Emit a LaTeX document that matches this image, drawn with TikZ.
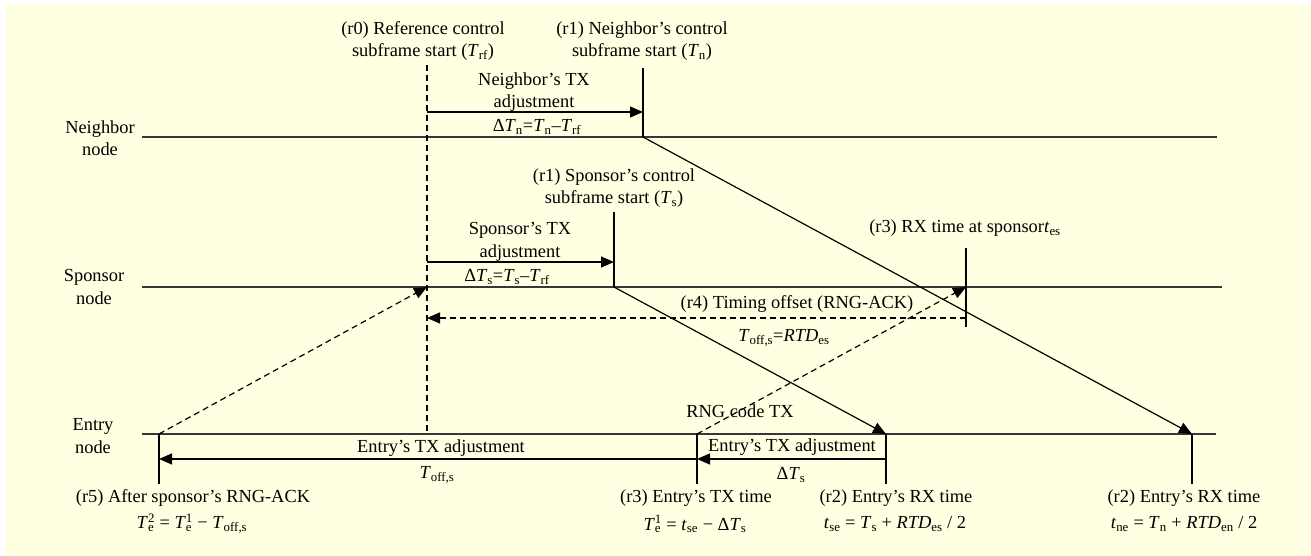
\documentclass[tikz,border=0pt]{standalone}
\usepackage{fontspec}
\setmainfont{Liberation Serif}
\usetikzlibrary{arrows.meta}
\definecolor{bgc}{RGB}{255,255,225}
\definecolor{linec}{RGB}{55,55,55}
\newcommand\subsup[2]{\setbox0\hbox{\textsuperscript{#2}}\setbox2\hbox{\textsubscript{#1}}\ifdim\wd0>\wd2\relax\rlap{\box2}\box0\relax\else\rlap{\box0}\box2\relax\fi}
\newcommand\Ti{\textit{T}}
\newcommand\ti{\textit{t}}
\begin{document}
\begin{tikzpicture}[x=1pt,y=-1pt,
  every node/.style={font=\fontsize{18.4}{22.5}\selectfont, inner sep=0pt, align=center},
  tline/.style={draw=linec, line width=1.6pt},
  vline/.style={draw=black, line width=1.2pt},
  arr/.style={draw=black, line width=1.2pt, -{Triangle[length=13pt,width=11pt]}},
  darr/.style={arr, dash pattern=on 6pt off 4pt},
  dline/.style={draw=black, line width=1.2pt, dash pattern=on 6pt off 4pt}]
\useasboundingbox (0,0) rectangle (1311,556);
\fill[bgc] (6,5) rectangle (1311,556);

% timelines
\coordinate (nL) at (142,137); \coordinate (nR) at (1217,137);
\coordinate (sL) at (142,287); \coordinate (sR) at (1222,287);
\coordinate (eL) at (142,434); \coordinate (eR) at (1216,434);
% key points
\coordinate (r0top) at (427,65); \coordinate (r0s) at (427,287); \coordinate (r0bot) at (427,434);
\coordinate (n1top) at (643,68); \coordinate (n1) at (643,137);
\coordinate (na0) at (427,112); \coordinate (na1) at (643,112);
\coordinate (enrx) at (1192,434); \coordinate (enrxb) at (1192,484);
\coordinate (s1top) at (614,212); \coordinate (s1) at (614,287);
\coordinate (sa0) at (427,262); \coordinate (sa1) at (614,262);
\coordinate (esrx) at (886,434); \coordinate (esrxb) at (886,484);
\coordinate (srxtop) at (966,248); \coordinate (srx) at (966,287); \coordinate (srxb) at (966,327);
\coordinate (r4a) at (966,318); \coordinate (r4b) at (427,318);
\coordinate (etx) at (697,434); \coordinate (etxb) at (697,484);
\coordinate (ea0) at (886,459); \coordinate (ea1) at (697,459); \coordinate (eb1) at (159,459);
\coordinate (e5) at (159,434); \coordinate (e5b) at (159,484);

\draw[tline] (nL) -- (nR);
\draw[tline] (sL) -- (sR);
\draw[tline] (eL) -- (eR);

\draw[dline] (r0top) -- (r0bot);
\draw[vline] (n1top) -- (n1);
\draw[arr] (na0) -- (na1);
\draw[arr] (n1) -- (enrx);
\draw[vline] (enrx) -- (enrxb);
\draw[vline] (s1top) -- (s1);
\draw[arr] (sa0) -- (sa1);
\draw[arr] (s1) -- (esrx);
\draw[vline] (esrx) -- (esrxb);
\draw[vline] (srxtop) -- (srxb);
\draw[darr] (r4a) -- (r4b);
\draw[darr] (etx) -- (srx);
\draw[vline] (etx) -- (etxb);
\draw[arr] (ea0) -- (ea1);
\draw[arr] (ea1) -- (eb1);
\draw[vline] (e5) -- (e5b);
\draw[darr] (e5) -- (r0s);

% labels
\node (lnb) at (100,138) {Neighbor\\node};
\node (lsp) at (94,287) {Sponsor\\node};
\node (len) at (93,436) {Entry\\node};

\node (lr0) at (423,41) {(r0) Reference control\\subframe start (\Ti\textsubscript{rf})};
\node (lr1n) at (642,41) {(r1) Neighbor’s control\\subframe start (\Ti\textsubscript{n})};
\node (lntx) at (534,92) {Neighbor’s TX\\adjustment};
\node (lndt) at (537,127) {Δ\Ti\textsubscript{n}=\Ti\textsubscript{n}–\Ti\textsubscript{rf}};

\node (lr1s) at (614,188) {(r1) Sponsor’s control\\subframe start (\Ti\textsubscript{s})};
\node (lstx) at (520,242) {Sponsor’s TX\\adjustment};
\node (lsdt) at (507,277) {Δ\Ti\textsubscript{s}=\Ti\textsubscript{s}–\Ti\textsubscript{rf}};
\node (lr3s) at (965,228) {(r3) RX time at sponsor\ti\textsubscript{es}};
\node (lr4) at (797,304) {(r4) Timing offset (RNG-ACK)};
\node (lr4f) at (784,338) {\Ti\textsubscript{off,s}=\textit{RTD}\textsubscript{es}};
\node (lrng) at (740,411) {RNG code TX};

\node (ladj1) at (792,447) {Entry’s TX adjustment};
\node (ldts) at (791,475) {Δ\Ti\textsubscript{s}};
\node (ladj2) at (441,448) {Entry’s TX adjustment};
\node (ltoff) at (437,475) {\Ti\textsubscript{off,s}};

\node (lr5) at (193,498) {(r5) After sponsor’s RNG-ACK};
\node (lr5f) at (192,524) {\Ti\subsup{e}{2} = \Ti\subsup{e}{1} − \Ti\textsubscript{off,s}};
\node (lr3e) at (696,498) {(r3) Entry’s TX time};
\node (lr3f) at (695,524) {\Ti\subsup{e}{1} = \ti\textsubscript{se} − Δ\Ti\textsubscript{s}};
\node (lr2s) at (896,498) {(r2) Entry’s RX time};
\node (lr2sf) at (895,524) {\ti\textsubscript{se} = \Ti\textsubscript{s} + \textit{RTD}\textsubscript{es} / 2};
\node (lr2n) at (1184,498) {(r2) Entry’s RX time};
\node (lr2nf) at (1184,524) {\ti\textsubscript{ne} = \Ti\textsubscript{n} + \textit{RTD}\textsubscript{en} / 2};
\end{tikzpicture}
\end{document}
